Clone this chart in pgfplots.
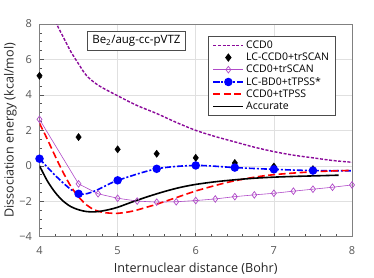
\documentclass[border=0pt]{standalone}
\usepackage{fontspec}
\setmainfont{Open Sans}
\usepackage{pgfplots}
\pgfplotsset{compat=1.18}
\definecolor{ccdpurple}{HTML}{8B0A9A}
\definecolor{scanviolet}{HTML}{B04AC8}
\definecolor{tickgray}{HTML}{555555}
\definecolor{framegray}{HTML}{808080}
\begin{document}
\begin{tikzpicture}
\begin{axis}[
  at={(39.5pt,39.3pt)}, anchor=south west,
  scale only axis, width=312.5pt, height=212.7pt,
  xmin=4, xmax=8, ymin=-4, ymax=8,
  xtick={4,5,6,7,8}, ytick={-4,-2,0,2,4,6,8},
  yticklabels={−4,−2,0,2,4,6,8},
  minor x tick num=4, minor y tick num=3,
  tick align=inside,
  xtick pos=bottom, ytick pos=left,
  major tick length=4pt, minor tick length=2.5pt,
  every tick/.style={tickgray, line width=0.6pt},
  axis line style={framegray, line width=1pt},
  grid=major,
  major grid style={black!12, line width=0.6pt},
  /pgf/number format/assume math mode=true,
  tick label style={font=\fontsize{11}{13}\selectfont, text=tickgray},
  xticklabel style={yshift=-6pt},
  yticklabel style={xshift=-4pt},
  xlabel={Internuclear distance (Bohr)},
  ylabel={Dissociation energy (kcal/mol)},
  label style={font=\fontsize{12.6}{14}\selectfont, text=black!85},
  xlabel style={at={(axis description cs:0.5,-0.150)}, anchor=center},
  ylabel style={at={(axis description cs:-0.093,0.5)}, anchor=center},
  legend style={at={(0.947,0.9436)}, anchor=north east, draw=black!70, line width=0.8pt,
    font=\fontsize{10.5}{12}\selectfont, row sep=-1pt, inner xsep=4pt, inner ysep=2.5pt},
  legend cell align=left,
  legend image code/.code={
    \draw[#1, mark indices={2}] plot coordinates {(0pt,0pt) (15pt,0pt) (30pt,0pt)};},
  clip=true,
]
% CCD0
\addplot[ccdpurple, line width=1.4pt, dash pattern=on 3pt off 1.6pt, smooth] coordinates {
(4.2,8.4)(4.22,8.0)(4.3,7.3)(4.4,6.45)(4.5,5.75)(4.6,5.1)(4.75,4.55)(5.0,3.95)(5.25,3.4)(5.5,2.95)(5.75,2.45)(6.0,2.0)(6.25,1.65)(6.5,1.35)(6.75,1.05)(7.0,0.8)(7.25,0.6)(7.5,0.45)(7.75,0.3)(8.0,0.2)};
\addlegendentry{CCD0}
% LC-CCD0+trSCAN
\addplot[only marks, mark=diamond*, mark size=3.6pt, black] coordinates {
(4.0,5.08)(4.5,1.62)(5.0,0.93)(5.5,0.68)(6.0,0.45)(6.5,0.16)(7.0,-0.04)(7.5,-0.19)};
\addlegendentry{LC-CCD0+trSCAN}
% CCD0+trSCAN
\addplot[scanviolet, line width=0.6pt, mark=diamond, mark size=3.3pt, mark options={solid, line width=0.7pt, fill=white}] coordinates {
(4.0,2.62)(4.5,-1.02)(4.75,-1.58)(5.0,-1.83)(5.25,-1.99)(5.5,-2.05)(5.75,-2.03)(6.0,-1.96)(6.25,-1.87)(6.5,-1.74)(6.75,-1.64)(7.0,-1.55)(7.25,-1.43)(7.5,-1.32)(7.75,-1.21)(8.0,-1.08)(8.25,-0.97)};
\addlegendentry{CCD0+trSCAN}
% LC-BD0+tTPSS*
\addplot[blue, line width=1.6pt, dash pattern=on 6pt off 2pt on 2pt off 2pt, smooth, mark=*, mark size=3.4pt, mark options={solid}, mark indices={1,2,3,4,5,6,7,8}] coordinates {
(4.0,0.4)(4.5,-1.58)(5.0,-0.82)(5.5,-0.17)(6.0,0.02)(6.5,-0.1)(7.0,-0.2)(7.5,-0.27)(8.0,-0.28)};
\addlegendentry{LC-BD0+tTPSS*}
% CCD0+tTPSS
\addplot[red, line width=1.6pt, dash pattern=on 7pt off 3.5pt, smooth] coordinates {
(4.0,2.4)(4.1,1.5)(4.2,0.55)(4.3,-0.35)(4.4,-1.15)(4.5,-1.75)(4.6,-2.2)(4.7,-2.48)(4.8,-2.62)(4.9,-2.67)(5.0,-2.68)(5.1,-2.63)(5.2,-2.55)(5.3,-2.43)(5.4,-2.3)(5.5,-2.17)(5.6,-2.02)(5.8,-1.72)(6.0,-1.42)(6.2,-1.17)(6.4,-0.94)(6.6,-0.76)(6.8,-0.61)(7.0,-0.5)(7.25,-0.41)(7.5,-0.34)(7.75,-0.29)(8.0,-0.26)};
\addlegendentry{CCD0+tTPSS}
% Accurate
\addplot[black, line width=1.6pt, smooth] coordinates {
(4.0,0.0)(4.1,-0.85)(4.2,-1.5)(4.3,-1.98)(4.4,-2.3)(4.5,-2.48)(4.6,-2.58)(4.7,-2.6)(4.8,-2.55)(4.9,-2.46)(5.0,-2.34)(5.2,-2.02)(5.4,-1.72)(5.6,-1.45)(5.8,-1.22)(6.0,-1.05)(6.25,-0.9)(6.5,-0.79)(6.75,-0.7)(7.0,-0.64)(7.25,-0.6)(7.5,-0.57)(7.83,-0.53)};
\addlegendentry{Accurate}
\node[draw=black!70, line width=0.8pt, fill=white, font=\fontsize{11.5}{13}\selectfont, inner xsep=5pt, inner ysep=4pt] at (axis cs:5.24,7.04) {Be\textsubscript{2}/aug-cc-pVTZ};
\end{axis}
\path (0pt,0pt) rectangle (374pt,276pt);
\end{tikzpicture}
\end{document}
